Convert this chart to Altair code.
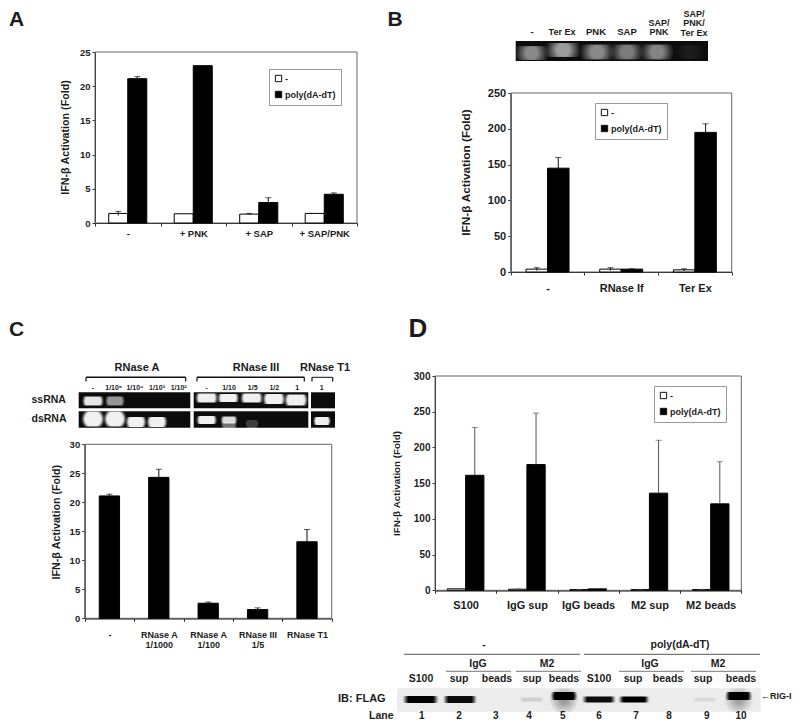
import altair as alt
import pandas as pd

FONT = "Liberation Sans"
INK = "#1c1c1c"
M = 8  # page margin; layout values below are picture pixels

SERIES = ["-", "poly(dA-dT)"]

# Panel A
a_groups = ["-", "+ PNK", "+ SAP", "+ SAP/PNK"]
a_white = [1.4, 1.35, 1.3, 1.4]
a_white_err = [0.3, 0.0, 0.1, 0.0]
a_black = [21.1, 23.0, 3.0, 4.2]
a_black_err = [0.3, 0.0, 0.7, 0.2]
a_ticks = [0, 5, 10, 15, 20, 25]

# Panel B
b_groups = ["-", "RNase If", "Ter Ex"]
b_white = [4, 4, 3]
b_white_err = [2, 2, 1.5]
b_black = [145, 4, 195]
b_black_err = [15, 0.5, 12]
b_ticks = [0, 50, 100, 150, 200, 250]

# Panel C
c_groups = ["-", "RNase A|1/1000", "RNase A|1/100", "RNase III|1/5", "RNase T1"]
c_black = [21.1, 24.3, 2.6, 1.5, 13.2]
c_black_err = [0.3, 1.4, 0.2, 0.3, 2.1]
c_ticks = [0, 5, 10, 15, 20, 25, 30]

# Panel D
d_groups = ["S100", "IgG sup", "IgG beads", "M2 sup", "M2 beads"]
d_white = [2, 1.5, 1, 1, 1]
d_white_err = [0.5, 0.3, 0.3, 0.3, 0.3]
d_black = [161, 176, 2, 136, 121]
d_black_err = [67, 72, 0.5, 74, 59]
d_ticks = [0, 50, 100, 150, 200, 250, 300]


def table(groups, white, white_err, black, black_err):
    rows = []
    if white is not None:
        for g, v, e in zip(groups, white, white_err):
            rows.append(dict(group=g, series=SERIES[0], value=v, low=max(v - e, 0), top=v + e, err=e))
    for g, v, e in zip(groups, black, black_err):
        rows.append(dict(group=g, series=SERIES[1], value=v, low=v, top=v + e, err=e))
    return pd.DataFrame(rows)


def panel(df, groups, ticks, box, bar_pad, title_xy, tick_size, label_size, label_dy, title_size,
          legend_xy=None, err_color="#111111", sym=40, legend_size=9):
    l, r, t, b = box
    series = list(df["series"].unique())
    x_scale = alt.Scale(domain=groups, range=[l - M, r - M], paddingInner=0, paddingOuter=0)
    off = alt.XOffset("series:N", sort=series,
                      scale=alt.Scale(domain=series, paddingInner=0, paddingOuter=bar_pad))
    y_scale = alt.Scale(domain=[ticks[0], ticks[-1]], range=[b - M, t - M], nice=False)
    x_axis = alt.Axis(
        title=None, orient="bottom", offset=-(CH - (b - M)), tickBand="extent", tickSize=3,
        tickColor="#333333", domainColor="#111111", domainWidth=1.2, labelAngle=0,
        labelFont=FONT, labelFontWeight="bold", labelFontSize=label_size, labelColor=INK,
        labelPadding=label_dy, labelOverlap=False, labelLineHeight=label_size + 1.5,
        labelExpr="isValid(datum.value) ? split(datum.value,'|') : ''", grid=False)
    y_axis = alt.Axis(
        title="IFN-β Activation (Fold)", orient="left", offset=-(l - M), values=ticks, tickSize=3,
        tickColor="#333333", domainColor="#222222", grid=False,
        labelFont=FONT, labelFontWeight="bold", labelFontSize=tick_size, labelColor=INK, labelPadding=2,
        titleFont=FONT, titleFontWeight="bold", titleFontSize=title_size, titleColor=INK,
        titleAngle=270, titleX=title_xy[0] - l, titleY=title_xy[1] - M, titleAlign="center",
        titleBaseline="middle")
    if legend_xy:
        legend = alt.Legend(
            orient="none", legendX=legend_xy[0] - M, legendY=legend_xy[1] - M, title=None,
            fillColor="white", strokeColor="#999999", padding=5, symbolType="square",
            symbolSize=sym, symbolStrokeColor="#111111", symbolStrokeWidth=1,
            labelFont=FONT, labelFontWeight="bold", labelFontSize=legend_size, labelColor=INK,
            rowPadding=5, labelOffset=2)
    else:
        legend = None
    color = alt.Color("series:N", sort=SERIES,
                      scale=alt.Scale(domain=SERIES, range=["white", "black"]), legend=legend)
    frame_x = alt.X("group:N", sort=groups, scale=x_scale, axis=None)
    bars = alt.Chart(df).mark_bar(stroke="#000000", strokeWidth=1).encode(
        x=alt.X("group:N", sort=groups, scale=x_scale, axis=x_axis),
        xOffset=off,
        y=alt.Y("value:Q", scale=y_scale, axis=y_axis),
        color=color,
    )
    edf = df[df["err"] > 0]
    stems = alt.Chart(edf).mark_rule(color=err_color, strokeWidth=1).encode(
        x=frame_x, xOffset=off,
        y=alt.Y("low:Q", scale=y_scale, axis=None), y2="top:Q")
    caps = alt.Chart(edf).mark_tick(color=err_color, orient="horizontal", size=6, thickness=1).encode(
        x=frame_x, xOffset=off,
        y=alt.Y("top:Q", scale=y_scale, axis=None))
    return [bars, stems, caps]


CW, CH = 784, 711

# ---- layout tables (picture pixels), not chart values ----
frames = pd.DataFrame([
    dict(x=95, x2=357, y=52, y2=223),
    dict(x=510.7, x2=731.7, y=93, y2=272),
    dict(x=84.7, x2=331.7, y=444.3, y2=618.3),
    dict(x=435, x2=741.3, y=376, y2=590.3),
])
dark_boxes = pd.DataFrame([
    dict(x=515.7, x2=708, y=41, y2=61),
    dict(x=78.7, x2=190.3, y=392.3, y2=408.3),
    dict(x=78.7, x2=190.3, y=411.3, y2=427.7),
    dict(x=193.7, x2=308.3, y=392.3, y2=408.3),
    dict(x=193.7, x2=308.3, y=411.3, y2=427.7),
    dict(x=311, x2=335, y=392.3, y2=408.3),
    dict(x=311, x2=335, y=411.3, y2=427.7),
])
light_box = pd.DataFrame([dict(x=397, x2=760.7, y=688.3, y2=711.7)])
# cx, cy, w, h, opacity
gel_b_bands = [
    (531.7, 53, 34, 14, .56), (563, 50, 36, 14, .64), (597, 52, 35, 15, .56), (627, 52, 34, 15, .50),
    (657, 52, 34, 15, .54), (690, 52, 30, 14, .07),
]
gel_c_bands = [
    (93, 401, 22, 9, .95), (115, 401, 20, 9, .60),
    (93, 419, 23, 15, 1), (115, 419, 23, 15, 1), (136, 422, 21, 10, 1), (157, 422, 21, 10, 1),
    (206.7, 398, 23, 9, 1), (228.3, 398, 22, 8, 1), (251.7, 398, 23, 9, 1), (274, 399, 23, 10, 1),
    (296, 400, 24, 11, 1),
    (206.7, 420, 21, 8, 1), (229, 420, 17, 7, .9), (229, 425, 16, 7, .45), (252, 424, 14, 8, .22),
    (322, 421, 18, 8, 1),
]
blot_bands = [
    (420.7, 699.5, 36, 7, 1), (460, 699.5, 34, 7, .95), (531.7, 699.5, 24, 4, .12), (564, 696, 27, 8, 1),
    (599, 699.5, 34, 6, .95), (634, 699.5, 31, 6, 1), (705, 699.5, 24, 4, .08), (738.7, 696, 27, 8, 1),
]
blot_smears = [(564, 700, 30, 24, .55), (738.7, 700, 30, 24, .5)]


def band_df(rows):
    return pd.DataFrame([
        dict(x=c - w / 2 - M, x2=c + w / 2 - M, y=cy - h / 2 - M, y2=cy + h / 2 - M, o=o)
        for c, cy, w, h, o in rows])


def shifted(df):
    return df.assign(x=df.x - M, x2=df.x2 - M, y=df.y - M, y2=df.y2 - M)


rules = pd.DataFrame([
    # panel D blot header
    dict(x=404, x2=580, y=654.3, c="#777777", w=1.3), dict(x=584, x2=760, y=654.3, c="#777777", w=1.3),
    dict(x=446, x2=511, y=671.3, c="#777777", w=1), dict(x=516, x2=581, y=671.3, c="#777777", w=1),
    dict(x=619, x2=684, y=671.3, c="#777777", w=1), dict(x=691, x2=756, y=671.3, c="#777777", w=1),
    # panel C brackets
    dict(x=86, x2=185.7, y=377.3, c="#111111", w=1.4), dict(x=197, x2=304.3, y=377.3, c="#111111", w=1.4),
    dict(x=312, x2=332.7, y=377.3, c="#111111", w=1),
])
vrules = pd.DataFrame([dict(x=v, y=377.3, y2=381.5) for v in (86, 185.7, 197, 304.3, 312, 332.7)])

texts = [
    # panel letters
    ("A", 16.5, 20, 21), ("B", 395, 20, 21), ("C", 16.5, 330, 21), ("D", 418, 328.5, 26),
    # panel B lanes
    ("-", 532, 32, 9.5), ("Ter Ex", 562, 32, 9), ("PNK", 596, 32, 9.5), ("SAP", 627, 32, 9.5),
    ("SAP/", 659, 22.5, 9), ("PNK", 659, 32, 9),
    ("SAP/", 694, 13.5, 9), ("PNK/", 694, 23, 9), ("Ter Ex", 694, 32.5, 9),
    # panel C gel
    ("RNase A", 137, 368, 11), ("RNase III", 256, 368, 11), ("RNase T1", 325, 368, 11),
    ("-", 93, 387.7, 7), ("1/10⁵", 113.7, 387.7, 7), ("1/10⁴", 135, 387.7, 7), ("1/10³", 157, 387.7, 7),
    ("1/10²", 178.7, 387.7, 7), ("-", 206.7, 387.7, 7), ("1/10", 229, 387.7, 7), ("1/5", 252.7, 387.7, 7),
    ("1/2", 274.3, 387.7, 7), ("1", 297.3, 387.7, 7), ("1", 321.7, 387.7, 7),
    ("ssRNA", 48.7, 400, 10.5), ("dsRNA", 49, 419, 10.5),
    # panel D blot
    ("-", 484, 645, 10.5), ("poly(dA-dT)", 680, 645, 10.5),
    ("IgG", 478, 664, 10.5), ("M2", 547, 664, 10.5), ("IgG", 650, 664, 10.5), ("M2", 718, 664, 10.5),
    ("S100", 421, 679, 10.5), ("sup", 459, 679, 10.5), ("beads", 497, 679, 10.5), ("sup", 532, 679, 10.5),
    ("beads", 564, 679, 10.5), ("S100", 599, 679, 10.5), ("sup", 633, 679, 10.5), ("beads", 668, 679, 10.5),
    ("sup", 703, 679, 10.5), ("beads", 741, 679, 10.5),
    ("1", 421.7, 715.5, 10), ("2", 459, 715.5, 10), ("3", 495.7, 715.5, 10), ("4", 529, 715.5, 10),
    ("5", 562.7, 715.5, 10), ("6", 599, 715.5, 10), ("7", 636, 715.5, 10), ("8", 669, 715.5, 10),
    ("9", 706.7, 715.5, 10), ("10", 741, 715.5, 10),
]
left_texts = [
    ("IB: FLAG", 338, 699, 11), ("Lane", 369, 715.5, 10.5), ("←RIG-I", 761, 696, 9),
]


def text_layer(rows, align):
    df = pd.DataFrame(rows, columns=["t", "x", "y", "s"])
    df["x"] -= M
    df["y"] -= M
    return alt.Chart(df).mark_text(font=FONT, fontWeight="bold", color=INK, align=align, baseline="middle").encode(
        x=alt.X("x:Q", scale=None), y=alt.Y("y:Q", scale=None),
        size=alt.Size("s:Q", scale=None), text="t:N")


def box_layer(df, fill):
    return alt.Chart(df).mark_rect(fill=fill).encode(
        x=alt.X("x:Q", scale=None), x2="x2:Q", y=alt.Y("y:Q", scale=None), y2="y2:Q")


def glow_layer(rows, rgb, hold=0.45):
    grad = alt.RadialGradient(gradient="radial", stops=[
        alt.GradientStop(offset=0, color=f"rgb({rgb})"),
        alt.GradientStop(offset=hold, color=f"rgb({rgb})"),
        alt.GradientStop(offset=1, color=f"rgba({rgb},0)"),
    ])
    return alt.Chart(band_df(rows)).mark_rect(fill=grad).encode(
        x=alt.X("x:Q", scale=None), x2="x2:Q", y=alt.Y("y:Q", scale=None), y2="y2:Q",
        opacity=alt.Opacity("o:Q", scale=None))


layers = []
layers.append(alt.Chart(shifted(frames)).mark_rect(filled=False, stroke="#666666", strokeWidth=1).encode(
    x=alt.X("x:Q", scale=None), x2="x2:Q", y=alt.Y("y:Q", scale=None), y2="y2:Q"))
layers.append(box_layer(shifted(dark_boxes), "#0c0c0c"))
layers.append(glow_layer(gel_b_bands, "235,235,235", 0.35))
layers.append(glow_layer(gel_c_bands, "240,240,240", 0.7))
layers.append(box_layer(shifted(light_box), "#ececec"))
layers.append(glow_layer(blot_smears, "90,90,90", 0.2))
layers.append(glow_layer(blot_bands, "0,0,0", 0.7))

r_df = rules.assign(x=rules.x - M, x2=rules.x2 - M, y=rules.y - M)
layers.append(alt.Chart(r_df).mark_rule().encode(
    x=alt.X("x:Q", scale=None), x2="x2:Q", y=alt.Y("y:Q", scale=None),
    color=alt.Color("c:N", scale=None), strokeWidth=alt.StrokeWidth("w:Q", scale=None)))
v_df = vrules.assign(x=vrules.x - M, y=vrules.y - M, y2=vrules.y2 - M)
layers.append(alt.Chart(v_df).mark_rule(color="#111111", strokeWidth=1.2).encode(
    x=alt.X("x:Q", scale=None), y=alt.Y("y:Q", scale=None), y2="y2:Q"))

layers += panel(table(a_groups, a_white, a_white_err, a_black, a_black_err), a_groups, a_ticks,
                (95, 357, 52, 223), 0.72, (65, 137), 9.5, 9.5, 2, 10.7, legend_xy=(269, 69))
layers += panel(table(b_groups, b_white, b_white_err, b_black, b_black_err), b_groups, b_ticks,
                (510.7, 731.7, 93, 272), 0.714, (465, 172), 11, 11, 7.5, 11.8, legend_xy=(595, 103))
layers += panel(table(c_groups, None, None, c_black, c_black_err), c_groups, c_ticks,
                (84.7, 331.7, 444.3, 618.3), 0.717, (56.7, 521.7), 9.5, 9, 9, 10.7)
layers += panel(table(d_groups, d_white, d_white_err, d_black, d_black_err), d_groups, d_ticks,
                (435, 741.3, 376, 590.3), 0.675, (396, 483), 10, 11, 6.5, 9.8,
                legend_xy=(654, 386), err_color="#555555")

layers.append(text_layer(texts, "center"))
layers.append(text_layer(left_texts, "left"))

chart = alt.layer(*layers).resolve_scale(
    x="independent", y="independent", xOffset="independent", color="independent"
).properties(
    width=CW, height=CH, padding=0, background="white",
    autosize=alt.AutoSizeParams(type="none"),
).configure_view(stroke=None)

chart.save("out.html", embed_options={"renderer": "svg", "actions": False})
